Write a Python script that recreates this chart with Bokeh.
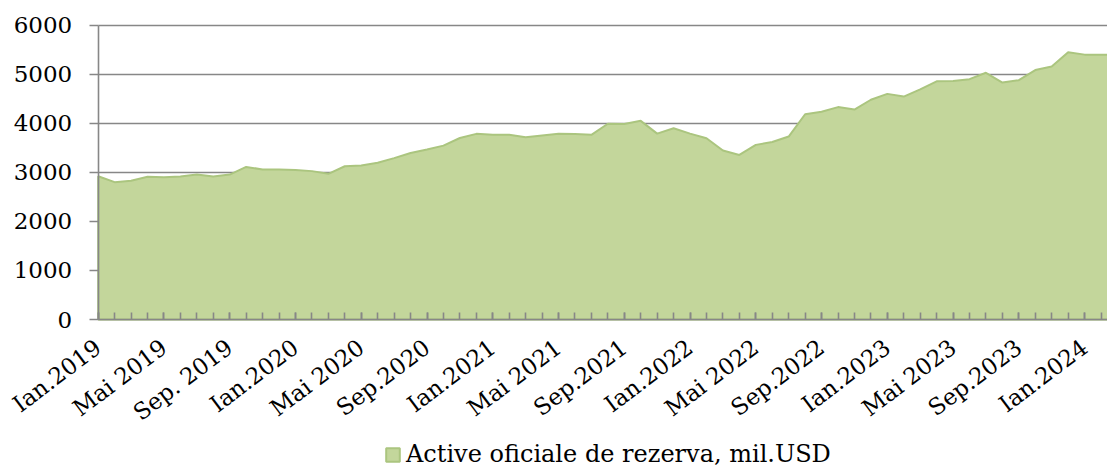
from bokeh.plotting import figure
from bokeh.models import Range1d, FixedTicker, Legend, LegendItem
from bokeh.embed import file_html
from bokeh.resources import INLINE
import math

# ---- data ----
months = list(range(63))  # Ian.2019 ... Mar.2024 (monthly)
reserves = [2920, 2800, 2830, 2910, 2900, 2915, 2955, 2915, 2955, 3110,
            3060, 3060, 3050, 3025, 2970, 3125, 3140, 3195, 3290, 3395,
            3465, 3545, 3700, 3785, 3765, 3765, 3715, 3750, 3785, 3780,
            3765, 3990, 3985, 4050, 3790, 3900, 3790, 3695, 3445, 3355,
            3560, 3620, 3730, 4185, 4235, 4330, 4280, 4480, 4600, 4545,
            4690, 4855, 4860, 4900, 5030, 4830, 4880, 5085, 5160, 5450,
            5400, 5400, 5400]
tick_labels = ["Ian.2019", "Mai 2019", "Sep. 2019", "Ian.2020", "Mai 2020",
               "Sep.2020", "Ian.2021", "Mai 2021", "Sep.2021", "Ian.2022",
               "Mai 2022", "Sep.2022", "Ian.2023", "Mai 2023", "Sep.2023",
               "Ian.2024"]
y_ticks = [0, 1000, 2000, 3000, 4000, 5000, 6000]
series_name = "Active oficiale de rezerva, mil.USD"

FONT = "DejaVu Serif"
GRID = "#878787"
FILL = "#C3D69B"
EDGE = "#ABC57F"

W, H = 1107, 468
TOP_PX = 24.7       # pixel row of the 6000 line
ZERO_PX = 319       # pixel row of value 0
AXIS_X = 97.7       # pixel column of the value axis
STEP = 16.44        # pixels per month

Y_MAX = 6000
PX_PER_UNIT = (ZERO_PX - TOP_PX) / Y_MAX
Y_START = -(H - ZERO_PX) / PX_PER_UNIT
Y_END = Y_MAX + TOP_PX / PX_PER_UNIT
X_START = -AXIS_X / STEP
X_END = (W - AXIS_X) / STEP

p = figure(width=W, height=H, output_backend="svg", toolbar_location=None,
           x_range=Range1d(X_START, X_END), y_range=Range1d(Y_START, Y_END),
           min_border_left=0, min_border_right=0, min_border_top=0,
           min_border_bottom=0)
p.outline_line_color = None
p.background_fill_color = "white"
p.border_fill_color = "white"

xs = [months[0]] + months + [months[-1]]
ys = [0] + reserves + [0]
area = p.patch(xs, ys, fill_color=FILL, line_color=EDGE, line_width=2)

# grid
p.xgrid.grid_line_color = None
p.ygrid.grid_line_color = GRID
p.ygrid.grid_line_width = 1.6
p.ygrid.ticker = FixedTicker(ticks=y_ticks)
try:
    p.ygrid.cross_bounds = (0, X_END)
except Exception:
    pass

# y axis, pinned at the first month
ya = p.yaxis[0]
ya.fixed_location = 0
ya.ticker = FixedTicker(ticks=y_ticks)
ya.bounds = (0, Y_MAX)
ya.axis_line_color = GRID
ya.axis_line_width = 1.6
ya.major_tick_line_color = GRID
ya.major_tick_line_width = 1.6
ya.major_tick_out = 9
ya.major_tick_in = 0
ya.minor_tick_line_color = None
ya.major_label_standoff = 17
ya.major_label_text_font = FONT
ya.major_label_text_font_size = "23px"
ya.major_label_text_color = "black"

# x axis, pinned at value 0
xa = p.xaxis[0]
xa.fixed_location = 0
xa.bounds = (0, X_END)
label_pos = list(range(0, len(tick_labels) * 4, 4))
xa.ticker = FixedTicker(ticks=label_pos, minor_ticks=months)
xa.major_label_overrides = {i: t for i, t in zip(label_pos, tick_labels)}
xa.axis_line_color = GRID
xa.axis_line_width = 1.6
xa.major_tick_line_color = GRID
xa.major_tick_line_width = 1.6
xa.major_tick_in = 7
xa.major_tick_out = 0
xa.minor_tick_line_color = GRID
xa.minor_tick_line_width = 1.6
xa.minor_tick_in = 7
xa.minor_tick_out = 0
xa.major_label_orientation = math.radians(37)
xa.major_label_standoff = 25
xa.major_label_text_font = FONT
xa.major_label_text_font_size = "23px"
xa.major_label_text_color = "black"

legend = Legend(items=[LegendItem(label=series_name, renderers=[area])],
                location=(384, 0), orientation="horizontal",
                border_line_color=None, background_fill_alpha=0,
                padding=0, margin=0, spacing=0,
                glyph_width=17, glyph_height=17, label_standoff=5,
                label_text_font=FONT, label_text_font_size="24px",
                label_text_color="black")
p.add_layout(legend, "center")

open("out.html", "w").write(file_html(p, INLINE))
